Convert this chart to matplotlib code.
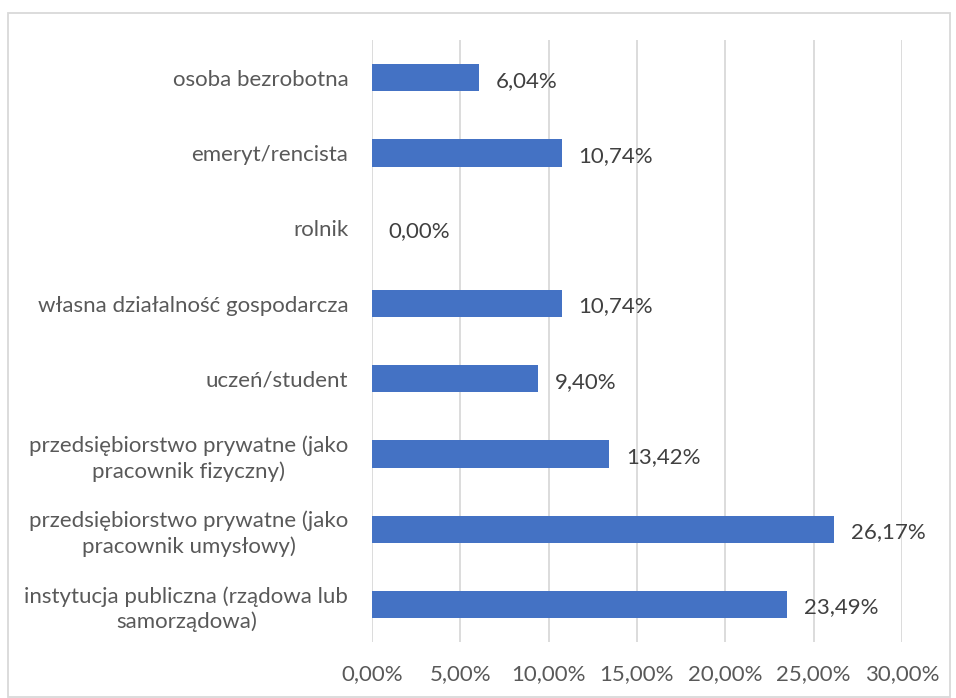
import matplotlib
matplotlib.use("Agg")
import matplotlib.pyplot as plt
from matplotlib.patches import Rectangle

# categories listed bottom to top (as drawn on the y axis)
categories = [
    "instytucja publiczna (rządowa lub\nsamorządowa)",
    "przedsiębiorstwo prywatne (jako\npracownik umysłowy)",
    "przedsiębiorstwo prywatne (jako\npracownik fizyczny)",
    "uczeń/student",
    "własna działalność gospodarcza",
    "rolnik",
    "emeryt/rencista",
    "osoba bezrobotna",
]
values = [23.49, 26.17, 13.42, 9.40, 10.74, 0.00, 10.74, 6.04]
xticks = [0, 5, 10, 15, 20, 25, 30]

bar_color = "#4472C4"
text_color = "#595959"
fs = 16

plt.rcParams["font.family"] = ["Lato", "DejaVu Sans"]

fig = plt.figure(figsize=(9.56, 6.98), dpi=100)
ax = fig.add_axes([0.389, 0.080, 0.5545, 0.8625])

y = range(len(categories))
ax.barh(y, values, height=0.36, color=bar_color, zorder=3)

# data labels
for yi, v in zip(y, values):
    ax.text(v + 0.95, yi - 0.04, f"{v:.2f}%".replace(".", ","), va="center", ha="left",
            fontsize=fs, color="#404040")

ax.set_xlim(0, 30)
ax.set_ylim(-0.5, len(categories) - 0.5)
ax.set_xticks(xticks)
ax.set_xticklabels([f"{t:.2f}%".replace(".", ",") for t in xticks], fontsize=fs, color=text_color)
ax.set_yticks(list(y))
ax.set_yticklabels(categories, fontsize=fs, color=text_color, multialignment="center",
                   linespacing=1.3)

ax.grid(axis="x", color="#D9D9D9", linewidth=1.3, zorder=0)
ax.tick_params(axis="both", length=0)
ax.tick_params(axis="y", pad=17)
ax.tick_params(axis="x", pad=16)
for s in ax.spines.values():
    s.set_visible(False)

# chart border
fig.patches.append(Rectangle((8 / 956, 0.002), 942 / 956, 1 - 13 / 698 - 0.002,
                             transform=fig.transFigure, fill=False,
                             edgecolor="#D9D9D9", linewidth=1.3))

fig.savefig("out.png", dpi=100)
